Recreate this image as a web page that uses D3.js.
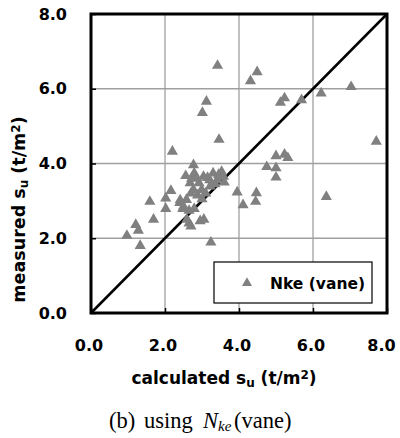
<!DOCTYPE html>
<html>
<head>
<meta charset="utf-8">
<script src="https://cdn.jsdelivr.net/npm/d3@7"></script>
<style>
  body { margin: 0; background: #fff; }
  svg { display: block; }
</style>
</head>
<body>
<div id="chart"></div>
<script>
// calculated su (x) and measured su (y), t/m2
const calcSu = [
  3.42, 4.49, 4.31, 7.03, 6.22, 5.69, 5.23, 5.12, 3.12, 3.01, 3.46, 7.71, 2.20,
  5.23, 5.32, 5.00, 4.75, 5.00, 5.00, 3.95, 4.47, 4.45, 4.11, 6.36,
  3.24, 0.97, 1.21, 1.28, 1.33, 1.69, 1.59, 2.02, 2.02, 2.16, 2.41, 2.48, 2.59, 2.70, 2.79, 3.05, 2.95, 2.65,
  2.77, 2.56, 2.79, 2.85, 3.04, 3.30, 3.53, 3.58, 3.42, 3.21, 2.68, 2.92, 2.77, 2.99, 3.22, 3.10,
  2.88, 3.35, 3.60, 2.70, 3.00, 2.58, 2.40, 2.50, 2.65, 2.72, 3.15, 3.45
];
const measSu = [
  6.62, 6.45, 6.21, 6.05, 5.88, 5.70, 5.75, 5.63, 5.66, 5.36, 4.64, 4.59, 4.32,
  4.24, 4.15, 4.20, 3.91, 3.88, 3.63, 3.23, 3.21, 2.98, 2.89, 3.11,
  1.89, 2.07, 2.36, 2.21, 1.80, 2.50, 2.98, 2.79, 3.07, 3.27, 3.02, 2.79, 2.50, 2.32, 2.79, 2.50, 2.46, 2.40,
  3.96, 3.67, 3.74, 3.62, 3.65, 3.74, 3.78, 3.65, 3.56, 3.56, 3.48, 3.48, 3.30, 3.30, 3.39, 3.20,
  3.15, 3.45, 3.50, 3.20, 3.05, 3.03, 2.95, 2.85, 2.74, 3.60, 3.62, 3.70
];
const tickValues = [0, 2, 4, 6, 8];
const seriesName = "Nke (vane)";

const W = 400, H = 438;
const m = { left: 91, right: 13, top: 14, bottom: 125 };
const sans = "'DejaVu Sans', Verdana, sans-serif";
const serif = "'Liberation Serif', 'Times New Roman', serif";

const svg = d3.select("#chart").append("svg")
  .attr("width", W).attr("height", H)
  .style("font-family", sans);

const x = d3.scaleLinear().domain([0, 8]).range([m.left, W - m.right]);
const y = d3.scaleLinear().domain([0, 8]).range([H - m.bottom, m.top]);

// grid
svg.append("g").selectAll("line").data(tickValues.slice(1, -1)).join("line")
  .attr("x1", d => x(d)).attr("x2", d => x(d))
  .attr("y1", y(0)).attr("y2", y(8))
  .attr("stroke", "#a0a0a0").attr("stroke-width", 1.3);
svg.append("g").selectAll("line").data(tickValues.slice(1, -1)).join("line")
  .attr("y1", d => y(d)).attr("y2", d => y(d))
  .attr("x1", x(0)).attr("x2", x(8))
  .attr("stroke", "#a0a0a0").attr("stroke-width", 1.3);

// axes (inner ticks, bold labels)
const fmt = d3.format(".1f");
const xAxis = svg.append("g").attr("transform", `translate(0,${y(0)})`)
  .call(d3.axisBottom(x).tickValues(tickValues).tickFormat(fmt).tickSizeInner(-5).tickSizeOuter(0).tickPadding(27));
const yAxis = svg.append("g").attr("transform", `translate(${x(0)},0)`)
  .call(d3.axisLeft(y).tickValues(tickValues).tickFormat(fmt).tickSizeInner(-5).tickSizeOuter(0).tickPadding(24));
[xAxis, yAxis].forEach(a => {
  a.select(".domain").remove();
  a.selectAll(".tick line").attr("stroke", "#000").attr("stroke-width", 1.5);
  a.selectAll("text").attr("fill", "#000").style("font-size", "16px").style("font-weight", "bold")
    .style("font-family", sans);
});
xAxis.selectAll(".tick text").attr("dx", d => d === 8 ? -6 : -2.5);

// 1:1 line
svg.append("line")
  .attr("x1", x(0)).attr("y1", y(0)).attr("x2", x(8)).attr("y2", y(8))
  .attr("stroke", "#000").attr("stroke-width", 2.5);

// points
const tri = d3.symbol(d3.symbolTriangle, 54);
svg.append("g").selectAll("path").data(d3.zip(calcSu, measSu)).join("path")
  .attr("d", tri)
  .attr("transform", d => `translate(${x(d[0])},${y(d[1])})`)
  .attr("fill", "#808080");

// frame
svg.append("rect")
  .attr("x", x(0)).attr("y", y(8))
  .attr("width", x(8) - x(0)).attr("height", y(0) - y(8))
  .attr("fill", "none").attr("stroke", "#000").attr("stroke-width", 3);

// legend
const lg = svg.append("g");
lg.append("rect").attr("x", 214).attr("y", 262).attr("width", 158).attr("height", 41)
  .attr("fill", "#fff").attr("stroke", "#000").attr("stroke-width", 1.2);
lg.append("path").attr("d", d3.symbol(d3.symbolTriangle, 44))
  .attr("transform", "translate(247,283)").attr("fill", "#808080");
lg.append("text").attr("x", 270).attr("y", 289)
  .style("font-size", "15.5px").style("font-weight", "bold").text(seriesName);

// axis titles
function title(sel, main) {
  sel.append("tspan").text(main + " s");
  sel.append("tspan").attr("baseline-shift", "-25%").style("font-size", "12px").text("u");
  sel.append("tspan").text(" (t/m");
  sel.append("tspan").attr("baseline-shift", "40%").style("font-size", "12px").text("2");
  sel.append("tspan").text(")");
}
svg.append("text").attr("x", (x(0) + x(8)) / 2 - 15).attr("y", 384)
  .attr("text-anchor", "middle").style("font-size", "17px").style("font-weight", "bold")
  .call(title, "calculated");
svg.append("text")
  .attr("transform", `translate(25,${(y(0) + y(8)) / 2 + 46}) rotate(-90)`)
  .attr("text-anchor", "middle").style("font-size", "17.5px").style("font-weight", "bold")
  .call(title, "measured");

// caption
const cap = svg.append("g").style("font-family", serif).style("font-size", "22.5px");
cap.append("text").attr("x", 109).attr("y", 428).text("(b)");
cap.append("text").attr("x", 144).attr("y", 428).text("using");
const nk = cap.append("text").attr("x", 203).attr("y", 428).style("font-style", "italic");
nk.append("tspan").text("N");
nk.append("tspan").style("font-size", "15px").attr("baseline-shift", "-20%").text("ke");
cap.append("text").attr("x", 234).attr("y", 428).text("(vane)");
</script>
</body>
</html>
